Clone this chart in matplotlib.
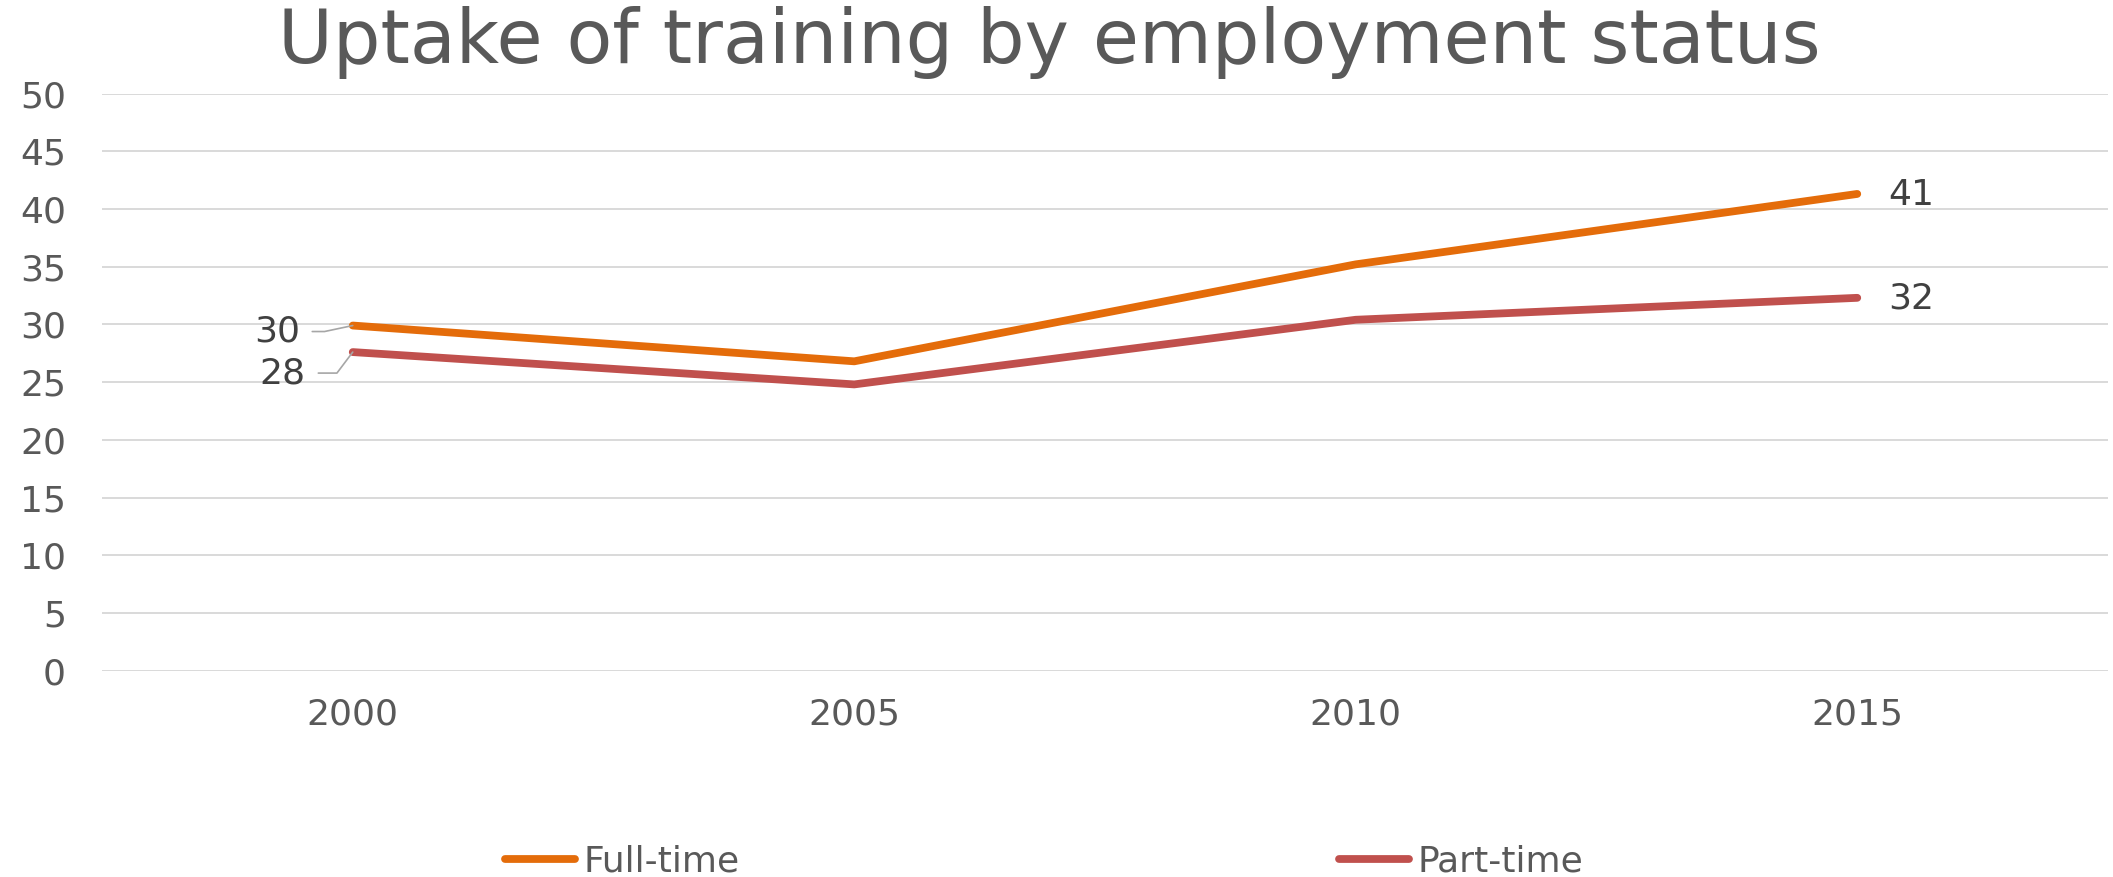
import matplotlib
matplotlib.use('Agg')
import matplotlib.pyplot as plt

# training uptake (%) by employment status
years = ['2000', '2005', '2010', '2015']
full_time = [29.9, 26.8, 35.2, 41.3]
part_time = [27.6, 24.8, 30.4, 32.3]
y_ticks = [0, 5, 10, 15, 20, 25, 30, 35, 40, 45, 50]

title = 'Uptake of training by employment status'
series_names = ['Full-time', 'Part-time']
series_colors = ['#E46C0A', '#C0504D']

TEXT_GREY = '#595959'
LABEL_GREY = '#404040'
GRID_GREY = '#D9D9D9'

plt.rcParams['font.family'] = ['DejaVu Sans']

fig = plt.figure(figsize=(21.13, 8.77), dpi=100)
ax = fig.add_axes([102 / 2113, 1 - 670.7 / 877, 2006 / 2113, 577.2 / 877])

x = list(range(len(years)))
lines = []
for values, name, color in zip([full_time, part_time], series_names, series_colors):
    ln, = ax.plot(x, values, color=color, lw=5.6, label=name,
                  solid_capstyle='round', solid_joinstyle='round', zorder=3)
    lines.append(ln)

ax.set_xlim(-0.5, len(years) - 0.5)
ax.set_ylim(0, 50)
ax.set_yticks(y_ticks)
ax.set_xticks(x)
ax.set_xticklabels(years)
ax.tick_params(axis='y', length=0, pad=26, labelsize=26, labelcolor=TEXT_GREY)
ax.tick_params(axis='x', length=0, pad=19, labelsize=26, labelcolor=TEXT_GREY)
for s in ax.spines.values():
    s.set_visible(False)
ax.grid(axis='y', color=GRID_GREY, lw=1.4, zorder=0)
ax.set_axisbelow(True)

# first-point labels sit to the left with leader lines
leader = dict(arrowstyle='-', color='#A6A6A6', lw=1.2, shrinkB=0, shrinkA=7)
ax.annotate(f'{full_time[0]:.0f}', xy=(0, full_time[0]), xytext=(-76, -6),
            textcoords='offset pixels', ha='center', va='center',
            fontsize=26, color=LABEL_GREY,
            arrowprops=dict(leader, connectionstyle='angle,angleA=0,angleB=12'))
ax.annotate(f'{part_time[0]:.0f}', xy=(0, part_time[0]), xytext=(-70, -21),
            textcoords='offset pixels', ha='center', va='center',
            fontsize=26, color=LABEL_GREY,
            arrowprops=dict(leader, connectionstyle='angle,angleA=0,angleB=53'))

# last-point labels to the right
for values in [full_time, part_time]:
    ax.annotate(f'{values[-1]:.0f}', xy=(x[-1], values[-1]), xytext=(31, -1),
                textcoords='offset pixels', ha='left', va='center',
                fontsize=26, color=LABEL_GREY)

fig.text(1049 / 2113, 1 - 63.3 / 877, title, ha='center', va='baseline',
         fontsize=54, color=TEXT_GREY)

fig.legend(handles=lines, loc='center left',
           bbox_to_anchor=(505 / 2113, 1 - 861.5 / 877),
           ncol=2, frameon=False, fontsize=26, labelcolor=TEXT_GREY,
           handlelength=1.94, handletextpad=0.23, columnspacing=16.6,
           borderpad=0, borderaxespad=0)

fig.savefig('out.png', dpi=100)
